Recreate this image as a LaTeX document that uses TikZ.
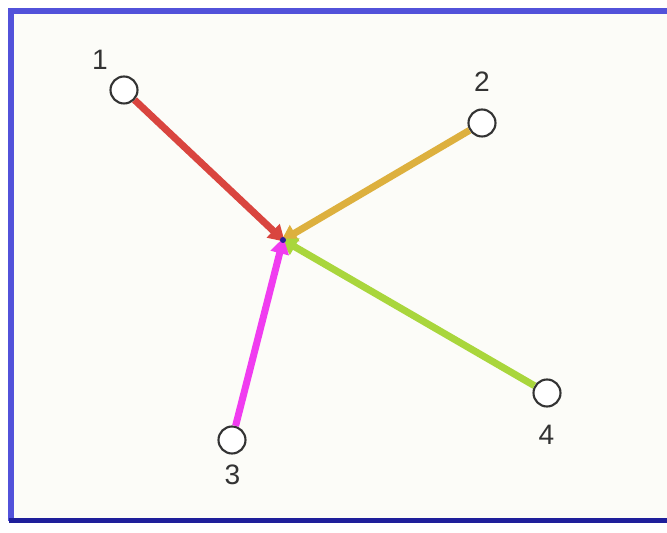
\documentclass[tikz,border=0pt]{standalone}
\usepackage{fontspec}
\setmainfont{Liberation Sans}
\usepackage{xcolor}
\usetikzlibrary{positioning,arrows.meta}
\definecolor{FrameBlue}{HTML}{5252DA}
\definecolor{FrameNavy}{HTML}{1E1E9A}
\definecolor{PaperWhite}{HTML}{FCFCF8}
\definecolor{EdgeRed}{HTML}{D9453F}
\definecolor{EdgeGold}{HTML}{DDB03E}
\definecolor{EdgeMagenta}{HTML}{F03CF0}
\definecolor{EdgeLime}{HTML}{A9D63C}
\definecolor{HubBlue}{HTML}{2A1A9A}
\definecolor{TextDark}{HTML}{333333}

\begin{document}
\begin{tikzpicture}[
      every node/.style={font=\fontsize{16}{18}\selectfont, text=TextDark},
      vert/.style={circle, draw=TextDark, fill=white, line width=1.2pt,
          minimum size=0.54cm, inner sep=0pt},
      ar/.style={-{Triangle[length=0.32cm,width=0.36cm]}, line width=0.14cm,
          shorten >=-0.05cm},
    ]
    \useasboundingbox (0,0) rectangle (13.34,10.66);
    % Frame
    \begin{scope}
      \clip (0,0) rectangle (13.34,10.66);
      \fill[PaperWhite] (0.22,0.24) rectangle (13.6,10.44);
      \draw[FrameBlue, line width=0.12cm] (0.22,0.24) -- (0.22,10.44) -- (13.6,10.44);
      \draw[FrameNavy, line width=0.1cm] (0.17,0.24) -- (13.6,0.24);
    \end{scope}

    % Hub
    \coordinate (hub) at (5.66,5.86);

    % Vertices
    \node[vert, label={[label distance=0.06cm]125:1}] (n1) at (2.48,8.86) {};
    \node[vert, label={[label distance=0.22cm]90:2}]  (n2) at (9.64,8.20) {};
    \node[vert, label={[label distance=0.08cm]271:3}] (n3) at (4.64,1.86) {};
    \node[vert, label={[label distance=0.22cm]269:4}] (n4) at (10.94,2.80) {};

    % Edges into the hub
    \foreach \a/\c in {n2/EdgeGold,n4/EdgeLime,n1/EdgeRed,n3/EdgeMagenta}
    \draw[ar,\c](\a)--(hub);
    \fill[HubBlue] (hub) circle (0.06cm);
  \end{tikzpicture}
\end{document}
